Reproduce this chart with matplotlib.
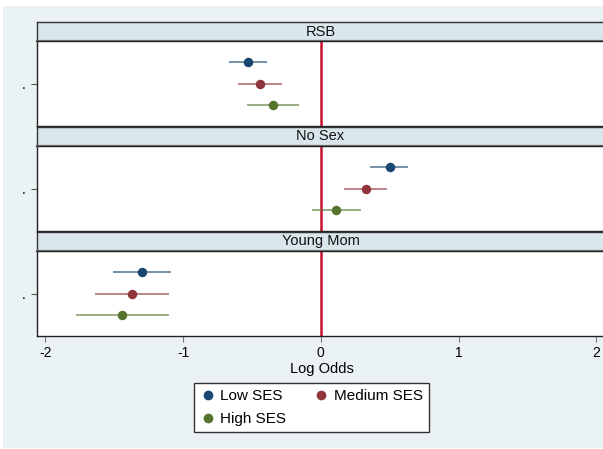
import matplotlib
matplotlib.use("Agg")
import matplotlib.pyplot as plt
from matplotlib.lines import Line2D

plt.rcParams['font.family'] = ['Liberation Sans', 'DejaVu Sans']

panels = ["RSB", "No Sex", "Young Mom"]
groups = ["Low SES", "Medium SES", "High SES"]

# log odds estimates and 95% limits, one entry per panel
low_est = [-0.53, 0.50, -1.30]
low_lo = [-0.67, 0.36, -1.51]
low_hi = [-0.39, 0.635, -1.09]
med_est = [-0.44, 0.325, -1.37]
med_lo = [-0.60, 0.17, -1.64]
med_hi = [-0.28, 0.48, -1.10]
high_est = [-0.345, 0.112, -1.44]
high_lo = [-0.535, -0.066, -1.775]
high_hi = [-0.155, 0.29, -1.105]

estimates = [low_est, med_est, high_est]
lower = [low_lo, med_lo, high_lo]
upper = [low_hi, med_hi, high_hi]
colors = ["#1A476F", "#90353B", "#55752F"]

W, H = 603, 449
fig = plt.figure(figsize=(W / 100, H / 100), dpi=100)
fig.patch.set_facecolor("white")

# light graph region behind everything
bg = fig.add_axes([3 / W, 1 / H, 1 - 3 / W, 1 - 7 / H])
bg.set_facecolor("#EAF2F3")
bg.set_xticks([])
bg.set_yticks([])
for s in bg.spines.values():
    s.set_visible(False)
bg.set_zorder(-10)

def box(left, top, right, bottom):
    return [left / W, 1 - bottom / H, (right - left) / W, (bottom - top) / H]

left, right = 37, 606
head_h, body_h = 19, 85

for p, name in enumerate(panels):
    top = 22 + p * 105
    hax = fig.add_axes(box(left, top, right, top + head_h))
    hax.set_facecolor("#D9E6EB")
    hax.set_xticks([])
    hax.set_yticks([])
    for s in hax.spines.values():
        s.set_color("#333333")
        s.set_linewidth(1.0)
    hax.spines['bottom'].set_color("#777777")
    hax.spines['bottom'].set_linewidth(1.6)
    hax.text(((W / 2 + 19) - left) / (right - left), 0.5, name, transform=hax.transAxes,
             ha="center", va="center", fontsize=10.5, color="#111111")

    ax = fig.add_axes(box(left, top + head_h, right, top + head_h + body_h))
    ax.set_facecolor("white")
    ax.set_xlim(-2.06, 2.07)
    ax.set_ylim(4, 0)
    ax.axvline(0, color="#C8102E", lw=1.8, zorder=1)
    for g in range(3):
        ax.plot([lower[g][p], upper[g][p]], [g + 1, g + 1], color=colors[g],
                lw=1.3, alpha=0.65, zorder=2, solid_capstyle="butt")
        ax.plot(estimates[g][p], g + 1, "o", color=colors[g], ms=5.8, zorder=3)
    ax.set_yticks([2])
    ax.set_yticklabels(["."])
    ax.tick_params(axis="y", length=4, color="#555555", labelsize=10, pad=4)
    for s in ax.spines.values():
        s.set_color("#222222")
        s.set_linewidth(1.0)
    ax.set_xticks([-2, -1, 0, 1, 2])
    if p < 2:
        ax.tick_params(axis="x", length=0, labelbottom=False)
    else:
        ax.set_xticklabels(["-2", "-1", "0", "1", "2"])
        ax.tick_params(axis="x", length=4, color="#777777", labelsize=10, pad=3)
        ax.set_xlabel("Log Odds", fontsize=10.5, labelpad=2)

handles = [Line2D([], [], ls="", marker="o", color=colors[0], ms=6, label=groups[0]),
           Line2D([], [], ls="", marker="o", color=colors[2], ms=6, label=groups[2]),
           Line2D([], [], ls="", marker="o", color=colors[1], ms=6, label=groups[1])]
leg = fig.legend(handles=handles, ncol=2, loc="upper center",
                 bbox_to_anchor=(311.5 / W, 1 - 383 / H), borderaxespad=0,
                 fontsize=11, frameon=True, fancybox=False, edgecolor="#333333",
                 framealpha=1, handletextpad=0.3, columnspacing=1.8,
                 handlelength=1.0, labelspacing=0.6, borderpad=0.4)
leg.get_frame().set_linewidth(1.0)

fig.savefig("out.png", dpi=100, facecolor=fig.get_facecolor())
